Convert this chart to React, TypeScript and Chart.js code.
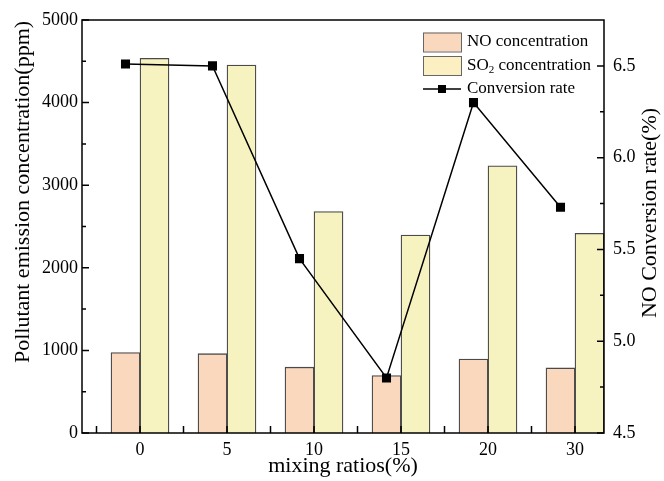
import React, { useEffect, useRef } from 'react';
import { Chart, registerables } from 'chart.js';

Chart.register(...registerables);

// ---- data ----
const categories = ['0', '5', '10', '15', '20', '30'];
const noConcentration = [975, 960, 797, 695, 895, 788];
const so2Concentration = [4536, 4455, 2680, 2397, 3236, 2418];
const conversionRate = [6.51, 6.5, 5.45, 4.8, 6.3, 5.73];
const leftTicks = [0, 1000, 2000, 3000, 4000, 5000];
const rightTicks = [4.5, 5.0, 5.5, 6.0, 6.5];

// ---- styles ----
const FONT = "'Liberation Serif', 'Times New Roman', serif";
const NO_FILL = '#FAD8BD';
const SO2_FILL = '#F7F3C1';
const SO2_LEGEND_FILL = '#FCF0C3';
const BAR_BORDER = '#4a4a4a';

const framePlugin = {
  id: 'frameTicks',
  afterDatasetsDraw(chart: any) {
    const { ctx, chartArea: a, scales } = chart;
    const x = scales.x;
    const y = scales.y;
    const y1 = scales.y1;
    ctx.save();
    ctx.strokeStyle = '#000';
    ctx.lineWidth = 1.5;
    ctx.beginPath();
    for (let i = 0; i < leftTicks.length; i++) {
      const p = y.getPixelForValue(leftTicks[i]);
      ctx.moveTo(a.left, p);
      ctx.lineTo(a.left + 7, p);
      if (i < leftTicks.length - 1) {
        const m = y.getPixelForValue((leftTicks[i] + leftTicks[i + 1]) / 2);
        ctx.moveTo(a.left, m);
        ctx.lineTo(a.left + 4, m);
      }
    }
    for (let i = 0; i < rightTicks.length; i++) {
      const p = y1.getPixelForValue(rightTicks[i]);
      ctx.moveTo(a.right, p);
      ctx.lineTo(a.right - 7, p);
      const m = y1.getPixelForValue(rightTicks[i] + 0.25);
      if (m > a.top) {
        ctx.moveTo(a.right, m);
        ctx.lineTo(a.right - 4, m);
      }
    }
    for (let i = 0; i < categories.length; i++) {
      const h = x.getPixelForValue(i - 0.5);
      ctx.moveTo(h, a.bottom);
      ctx.lineTo(h, a.bottom - 7);
      const c = x.getPixelForValue(i);
      ctx.moveTo(c, a.bottom);
      ctx.lineTo(c, a.bottom - 7);
    }
    ctx.stroke();
    ctx.strokeRect(a.left, a.top, a.right - a.left, a.bottom - a.top);
    ctx.restore();
  },
  afterDraw(chart: any) {
    const { ctx } = chart;
    const vtitle = (text: string, cx: number, cy: number) => {
      ctx.save();
      ctx.fillStyle = '#000';
      ctx.font = `22px ${FONT}`;
      ctx.textAlign = 'center';
      ctx.textBaseline = 'middle';
      ctx.translate(cx, cy);
      ctx.rotate(-Math.PI / 2);
      ctx.fillText(text, 0, 0);
      ctx.restore();
    };
    vtitle('Pollutant emission concentration(ppm)', 23, 192);
    vtitle('NO Conversion rate(%)', 650, 213);

    ctx.save();
    const bx = 423;
    const bw = 38;
    const bh = 19;
    const tx = 467;
    const rows = [42, 65.5, 89];
    ctx.lineWidth = 1;
    ctx.strokeStyle = '#666';
    ctx.fillStyle = NO_FILL;
    ctx.fillRect(bx, rows[0] - bh / 2, bw, bh);
    ctx.strokeRect(bx + 0.5, rows[0] - bh / 2 + 0.5, bw, bh);
    ctx.fillStyle = SO2_LEGEND_FILL;
    ctx.fillRect(bx, rows[1] - bh / 2, bw, bh);
    ctx.strokeRect(bx + 0.5, rows[1] - bh / 2 + 0.5, bw, bh);
    ctx.strokeStyle = '#000';
    ctx.lineWidth = 1.5;
    ctx.beginPath();
    ctx.moveTo(bx, rows[2]);
    ctx.lineTo(bx + bw, rows[2]);
    ctx.stroke();
    ctx.fillStyle = '#000';
    ctx.fillRect(bx + bw / 2 - 4, rows[2] - 4, 8, 8);

    ctx.fillStyle = '#000';
    ctx.textAlign = 'left';
    ctx.textBaseline = 'middle';
    ctx.font = `17px ${FONT}`;
    ctx.fillText('NO concentration', tx, rows[0]);
    ctx.fillText('SO', tx, rows[1]);
    const soW = ctx.measureText('SO').width;
    ctx.font = `11px ${FONT}`;
    ctx.fillText('2', tx + soW, rows[1] + 5);
    const twoW = ctx.measureText('2').width;
    ctx.font = `17px ${FONT}`;
    ctx.fillText(' concentration', tx + soW + twoW, rows[1]);
    ctx.fillText('Conversion rate', tx, rows[2]);
    ctx.restore();
  },
};

export default function App() {
  const ref = useRef<HTMLCanvasElement | null>(null);

  useEffect(() => {
    const canvas = ref.current;
    if (!canvas) return;
    const chart = new Chart(canvas, {
      type: 'bar',
      data: {
        labels: categories,
        datasets: [
          {
            type: 'line',
            label: 'Conversion rate',
            data: conversionRate,
            xAxisID: 'x2',
            yAxisID: 'y1',
            borderColor: '#000',
            backgroundColor: '#000',
            borderWidth: 1.5,
            pointStyle: 'rect',
            pointRadius: 6.4,
            pointBackgroundColor: '#000',
            pointBorderColor: '#000',
            pointBorderWidth: 0,
            tension: 0,
            order: 0,
          } as any,
          {
            type: 'bar',
            label: 'NO concentration',
            data: categories.map((_, i) => ({ x: i, y: noConcentration[i] })),
            xAxisID: 'x',
            yAxisID: 'y',
            backgroundColor: NO_FILL,
            borderColor: BAR_BORDER,
            borderWidth: 1.3,
            barThickness: 29,
            order: 1,
          } as any,
          {
            type: 'bar',
            label: 'SO₂ concentration',
            data: categories.map((_, i) => ({ x: i, y: so2Concentration[i] })),
            xAxisID: 'x',
            yAxisID: 'y',
            backgroundColor: SO2_FILL,
            borderColor: BAR_BORDER,
            borderWidth: 1.3,
            barThickness: 29,
            order: 1,
          } as any,
        ],
      },
      options: {
        responsive: false,
        animation: false,
        layout: { padding: { top: 20, left: 0, right: 0, bottom: 0 } },
        plugins: {
          legend: { display: false },
          tooltip: { enabled: false },
        },
        scales: {
          x: {
            type: 'linear',
            position: 'bottom',
            offset: false,
            min: -2 / 3,
            max: 16 / 3,
            grid: { display: false, drawTicks: false, offset: false },
            border: { display: false },
            afterBuildTicks: (scale: any) => {
              scale.ticks = categories.map((_, i) => ({ value: i }));
            },
            afterFit: (scale: any) => {
              scale.height = 48;
            },
            ticks: {
              autoSkip: false,
              maxRotation: 0,
              padding: 6,
              color: '#000',
              font: { family: FONT, size: 18 },
              callback: (v: any) => categories[Math.round(Number(v))] ?? '',
            },
            title: {
              display: true,
              text: 'mixing ratios(%)',
              color: '#000',
              font: { family: FONT, size: 22 },
              padding: { top: 0, bottom: 2 },
            },
          },
          x2: {
            type: 'category',
            labels: categories,
            offset: true,
            display: false,
          },
          y: {
            type: 'linear',
            position: 'left',
            min: 0,
            max: 5000,
            grid: { display: false, drawTicks: false },
            border: { display: false },
            afterBuildTicks: (scale: any) => {
              scale.ticks = leftTicks.map((v) => ({ value: v }));
            },
            afterFit: (scale: any) => {
              scale.width = 82;
            },
            ticks: {
              padding: 4,
              color: '#000',
              font: { family: FONT, size: 18 },
              callback: (v: any) => String(v),
            },
          },
          y1: {
            type: 'linear',
            position: 'right',
            min: 4.5,
            max: 6.75,
            grid: { display: false, drawTicks: false },
            border: { display: false },
            afterBuildTicks: (scale: any) => {
              scale.ticks = rightTicks.map((v) => ({ value: v }));
            },
            afterFit: (scale: any) => {
              scale.width = 60;
            },
            ticks: {
              padding: 9,
              color: '#000',
              font: { family: FONT, size: 18 },
              callback: (v: any) => Number(v).toFixed(1),
            },
          },
        },
      } as any,
      plugins: [framePlugin],
    });
    return () => chart.destroy();
  }, []);

  return (
    <div style={{ position: 'absolute', left: 0, top: 0, width: 664, height: 481, background: '#fff' }}>
      <canvas ref={ref} width={664} height={481} style={{ display: 'block' }} />
    </div>
  );
}
